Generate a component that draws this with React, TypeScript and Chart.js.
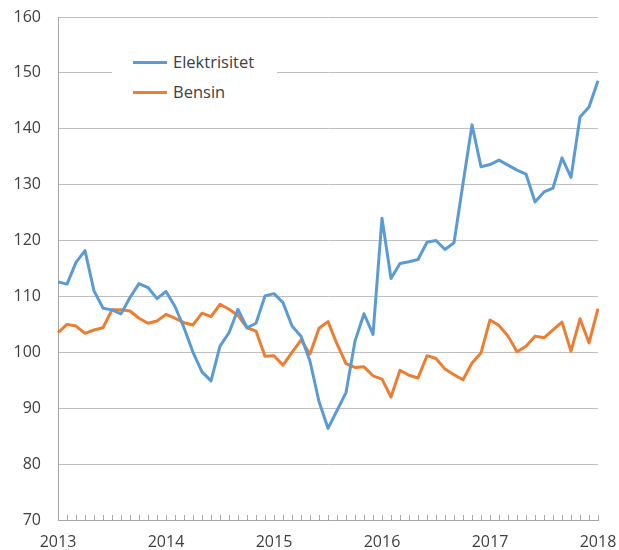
import React, { useEffect, useRef } from "react";
import { Chart, registerables } from "chart.js";

Chart.register(...registerables);

const years = ["2013", "2014", "2015", "2016", "2017", "2018"];

const elektrisitet = [
  112.6, 112.2, 116.1, 118.2, 111.0, 107.9, 107.6, 106.9, 109.8, 112.3, 111.6, 109.6,
  110.9, 108.2, 104.4, 100.0, 96.5, 94.9, 101.1, 103.5, 107.7, 104.4, 105.2, 110.1,
  110.5, 108.9, 104.7, 102.9, 98.4, 91.2, 86.4, 89.6, 92.8, 102.0, 106.9, 103.2,
  124.0, 113.2, 115.9, 116.2, 116.6, 119.7, 120.0, 118.4, 119.6, 130.2, 140.7, 133.2,
  133.6, 134.4, 133.5, 132.6, 131.9, 126.9, 128.7, 129.4, 134.8, 131.3, 142.1, 143.9,
  148.6,
];

const bensin = [
  103.5, 105.0, 104.7, 103.4, 104.0, 104.4, 107.6, 107.6, 107.4, 106.1, 105.2, 105.6,
  106.8, 106.1, 105.3, 104.9, 107.0, 106.4, 108.6, 107.7, 106.6, 104.4, 103.8, 99.3,
  99.4, 97.7, 100.0, 102.2, 99.7, 104.3, 105.5, 101.5, 98.0, 97.3, 97.4, 95.8,
  95.2, 92.0, 96.8, 95.9, 95.4, 99.4, 98.9, 97.0, 96.0, 95.1, 98.1, 99.9,
  105.8, 104.8, 102.9, 100.1, 101.1, 102.9, 102.6, 104.0, 105.4, 100.2, 106.0, 101.7,
  107.8,
];

const seriesNames = ["Elektrisitet", "Bensin"];
const seriesColors = ["#5B9BD5", "#ED7D31"];

const yMin = 70;
const yMax = 160;
const yStep = 10;

// month labels: Jan 2013 ... Jan 2018
const months: string[] = [];
for (let y = 0; y < years.length; y++) {
  const last = y === years.length - 1 ? 1 : 12;
  for (let m = 1; m <= last; m++) {
    months.push(years[y] + "-" + String(m).padStart(2, "0"));
  }
}

const FONT = "'Open Sans', 'DejaVu Sans', sans-serif";
const TEXT = "#404040";

export default function App() {
  const ref = useRef<HTMLCanvasElement | null>(null);

  useEffect(() => {
    if (!ref.current) return;
    const chart = new Chart(ref.current, {
      type: "line",
      data: {
        labels: months,
        datasets: [
          {
            label: seriesNames[0],
            data: elektrisitet,
            borderColor: seriesColors[0],
            backgroundColor: seriesColors[0],
            borderWidth: 3,
            pointRadius: 0,
            tension: 0,
            borderJoinStyle: "round",
          },
          {
            label: seriesNames[1],
            data: bensin,
            borderColor: seriesColors[1],
            backgroundColor: seriesColors[1],
            borderWidth: 3,
            pointRadius: 0,
            tension: 0,
            borderJoinStyle: "round",
          },
        ],
      },
      options: {
        responsive: false,
        animation: false,
        devicePixelRatio: 1,
        layout: { padding: { top: 17, right: 21, left: 0, bottom: 0 } },
        plugins: {
          legend: { display: false },
          tooltip: { enabled: false },
        },
        scales: {
          x: {
            type: "category",
            offset: false,
            afterFit: (s: any) => {
              s.height = 30;
              s.paddingLeft = 0;
              s.paddingRight = 0;
            },
            grid: {
              drawOnChartArea: false,
              drawTicks: true,
              tickLength: -5,
              tickColor: "#a6a6a6",
            },
            border: { color: "#a6a6a6", width: 1 },
            ticks: {
              autoSkip: false,
              maxRotation: 0,
              padding: 18,
              color: TEXT,
              font: { family: FONT, size: 16 },
              callback: (_v: any, i: number) => (i % 12 === 0 ? months[i].slice(0, 4) : ""),
            },
          },
          y: {
            min: yMin,
            max: yMax,
            afterFit: (s: any) => {
              s.width = 58;
              s.paddingTop = 0;
              s.paddingBottom = 0;
            },
            grid: {
              color: "#bfbfbf",
              drawTicks: false,
              lineWidth: 1,
            },
            border: { color: "#a6a6a6", width: 1 },
            ticks: {
              stepSize: yStep,
              padding: 17,
              color: TEXT,
              font: { family: FONT, size: 16 },
            },
          },
        },
      },
    });
    return () => chart.destroy();
  }, []);

  const legendRow = (i: number, top: number) => (
    <div key={i} style={{ position: "absolute", left: 0, top, height: 20, width: 165 }}>
      <span
        style={{
          position: "absolute",
          left: 21,
          top: 8.5,
          width: 34,
          height: 3,
          background: seriesColors[i],
        }}
      />
      <span
        style={{
          position: "absolute",
          left: 61,
          top: 0,
          lineHeight: "20px",
          fontSize: 16.5,
          fontFamily: FONT,
          color: TEXT,
          whiteSpace: "nowrap",
        }}
      >
        {seriesNames[i]}
      </span>
    </div>
  );

  return (
    <div style={{ position: "absolute", left: 0, top: 0, width: 619, height: 550 }}>
      <canvas ref={ref} width={619} height={550} style={{ display: "block" }} />
      <div
        style={{
          position: "absolute",
          left: 112,
          top: 47,
          width: 165,
          height: 58,
          background: "#ffffff",
        }}
      >
        {legendRow(0, 5)}
        {legendRow(1, 35)}
      </div>
    </div>
  );
}
